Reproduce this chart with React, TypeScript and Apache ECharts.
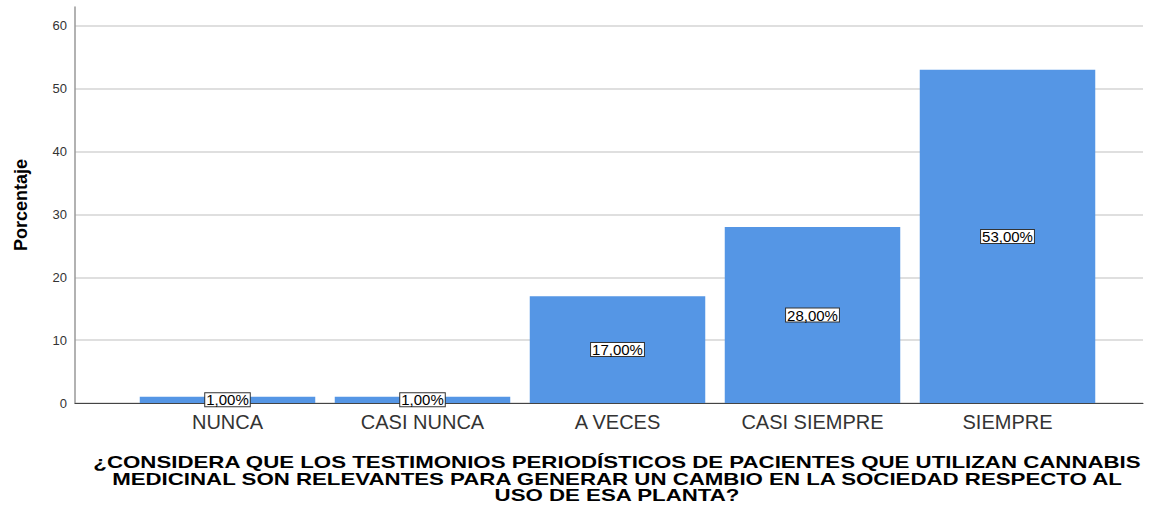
import React, { useEffect, useRef } from "react";
import * as echarts from "echarts";

const categories = ["NUNCA", "CASI NUNCA", "A VECES", "CASI SIEMPRE", "SIEMPRE"];
const values = [1, 1, 17, 28, 53];
const yTicks = [0, 10, 20, 30, 40, 50, 60];
const xTitleLines = [
  "¿CONSIDERA QUE LOS TESTIMONIOS PERIODÍSTICOS DE PACIENTES QUE UTILIZAN CANNABIS",
  "MEDICINAL SON RELEVANTES PARA GENERAR UN CAMBIO EN LA SOCIEDAD RESPECTO AL",
  "USO DE ESA PLANTA?",
];
const yTitle = "Porcentaje";

export default function App() {
  const ref = useRef<HTMLDivElement>(null);
  useEffect(() => {
    const chart = echarts.init(ref.current!, null, { renderer: "svg" });
    const font = "'Liberation Sans', Arial, sans-serif";
    chart.setOption({
      animation: false,
      backgroundColor: "#ffffff",
      grid: [
        { left: 75, right: 8, top: 7, bottom: 107 },
        { left: 130, right: 46, top: 7, bottom: 107 },
      ],
      xAxis: [
        {
          gridIndex: 0,
          type: "value",
          min: 0,
          max: 1,
          axisLine: { show: true, onZero: false, lineStyle: { color: "#444", width: 1 } },
          axisTick: { show: false },
          axisLabel: { show: false },
          splitLine: { show: false },
        },
        {
          gridIndex: 1,
          type: "category",
          data: categories,
          axisLine: { show: false },
          axisTick: { show: false },
          axisLabel: {
            color: "#333",
            fontSize: 20,
            fontFamily: font,
            margin: 9,
          },
        },
      ],
      yAxis: [
        {
          gridIndex: 0,
          type: "value",
          min: yTicks[0],
          max: 63,
          interval: 10,
          axisLine: { show: true, lineStyle: { color: "#999", width: 1.5 } },
          axisTick: { show: false },
          axisLabel: {
            color: "#333",
            fontSize: 13,
            fontFamily: font,
            margin: 8,
            showMaxLabel: false,
          },
          splitLine: { show: true, showMaxLine: false, lineStyle: { color: "#d4d4d4", width: 1.5 } },
          name: yTitle,
          nameLocation: "middle",
          nameGap: 45,
          nameTextStyle: {
            color: "#000",
            fontSize: 18,
            fontWeight: "bold",
            fontFamily: font,
          },
        },
        {
          gridIndex: 1,
          type: "value",
          min: 0,
          max: 63,
          show: false,
        },
      ],
      graphic: xTitleLines.map((t, i) => ({
        type: "text",
        x: 617,
        y: 462 + i * 16.5,
        scaleX: 1.31,
        silent: true,
        style: {
          text: t,
          font: `bold 17px ${font}`,
          fill: "#000",
          align: "center",
          verticalAlign: "middle",
          textAlign: "center",
          textVerticalAlign: "middle",
          lineHeight: 16,
        },
      })),
      series: [
        {
          type: "bar",
          xAxisIndex: 1,
          yAxisIndex: 1,
          data: values,
          barCategoryGap: "10%",
          itemStyle: { color: "#5596e5" },
          label: {
            show: true,
            position: "inside",
            formatter: (p: any) => p.value.toFixed(2).replace(".", ",") + "%",
            color: "#000",
            fontSize: 15,
            fontFamily: font,
            lineHeight: 13,
            backgroundColor: "#ffffff",
            borderColor: "#333",
            borderWidth: 1,
            padding: [0, 1, 0, 1],
          },
        },
      ],
    });
    return () => chart.dispose();
  }, []);
  return <div ref={ref} style={{ width: 1151, height: 510, position: "absolute", left: 0, top: 0 }} />;
}
